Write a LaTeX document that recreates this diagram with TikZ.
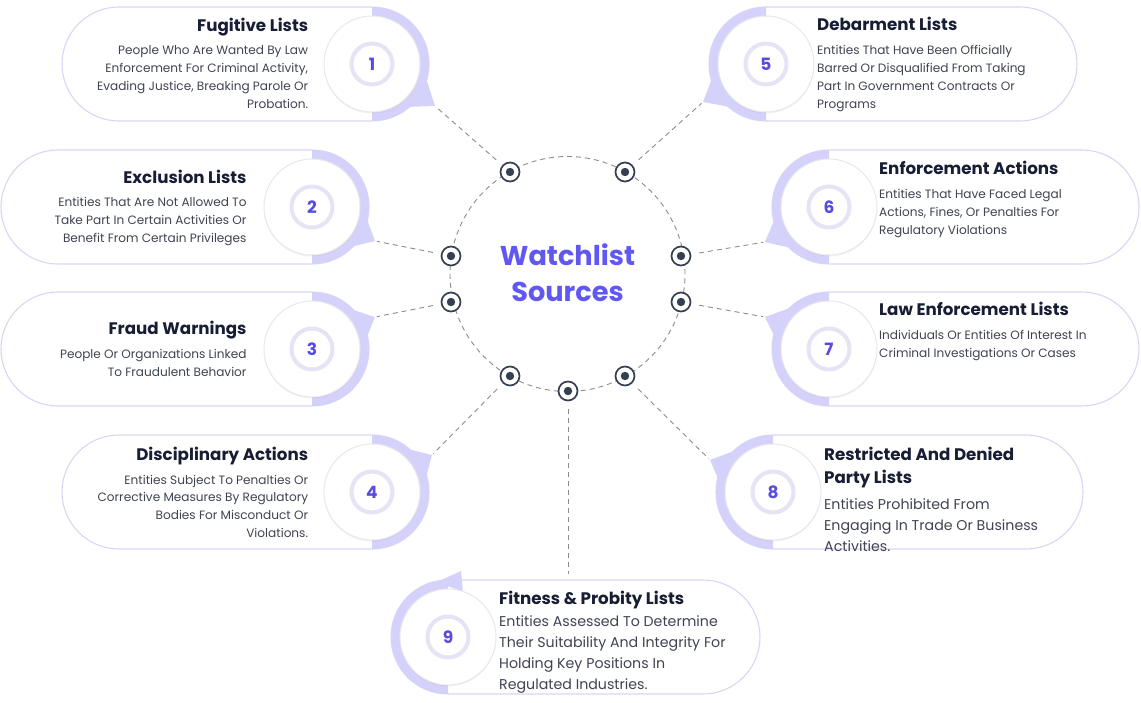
\documentclass[tikz,border=0pt]{standalone}
\usepackage{fontspec}
\setmainfont{Poppins}
\usetikzlibrary{calc,shadows}
\definecolor{lav}{RGB}{212,210,250}
\definecolor{outl}{RGB}{216,214,246}
\definecolor{ringc}{RGB}{229,228,245}
\definecolor{numc}{RGB}{88,76,224}
\definecolor{hubtxt}{RGB}{96,88,240}
\definecolor{dotc}{RGB}{52,64,82}
\definecolor{connc}{RGB}{140,140,140}
\definecolor{titc}{RGB}{23,30,52}
\definecolor{descc}{RGB}{64,68,82}
\definecolor{discedge}{RGB}{232,232,236}
\tikzset{
  cardline/.style={draw=outl, line width=1.1pt, fill=white},
  lavfill/.style={fill=lav},
  disc/.style={circle, fill=white, draw=discedge, line width=1pt, minimum size=96pt, inner sep=0pt,
    drop shadow={shadow xshift=0pt, shadow yshift=-1.5pt, opacity=0.10}},
  numring/.style={circle, draw=ringc, line width=4pt, minimum size=41pt, inner sep=0pt, text=numc,
    font=\fontsize{17}{17}\selectfont\bfseries},
  title/.style={font=\fontsize{16.7}{23.3}\selectfont\bfseries, text=titc, inner sep=0pt},
  desc/.style={font=\fontsize{12.1}{17.9}\selectfont, text=descc, inner sep=0pt},
  descbig/.style={font=\fontsize{14.2}{21}\selectfont, text=descc, inner sep=0pt},
  hubcircle/.style={circle, draw=connc, dash pattern=on 5pt off 4pt, line width=0.9pt, minimum size=235pt, inner sep=0pt},
  hubtext/.style={font=\fontsize{27.2}{36}\selectfont\bfseries, text=hubtxt, inner sep=0pt},
  dotnode/.style={circle, draw=dotc, line width=1.7pt, fill=white, minimum size=19pt, inner sep=0pt},
  conn/.style={draw=connc, dash pattern=on 5pt off 4pt, line width=0.9pt, shorten <=8pt, shorten >=2pt}
}
% #1 id, #2 cx, #3 cy, #4 left x, #5 tip x, #6 tip y, #7 #8 base points (angle:radius)
\newcommand\cardL[8]{%
  \draw[cardline, rounded corners=57pt] (#4,#3-57) rectangle (#2+57,#3+57);
  \fill[lavfill] (#2,#3-57) arc[start angle=-90,end angle=90,radius=57] -- cycle;
  \coordinate (t#1) at (#5,#6);
  \fill[lavfill] ($(#2,#3)+(#7)$) -- (t#1) -- ($(#2,#3)+(#8)$) -- cycle;
  \node[disc] (c#1) at (#2,#3) {};
  \node[numring] (n#1) at (#2,#3) {#1};
}
% #4 right x
\newcommand\cardR[8]{%
  \draw[cardline, rounded corners=57pt] (#2-57,#3-57) rectangle (#4,#3+57);
  \fill[lavfill] (#2,#3+57) arc[start angle=90,end angle=270,radius=57] -- cycle;
  \coordinate (t#1) at (#5,#6);
  \fill[lavfill] ($(#2,#3)+(#7)$) -- (t#1) -- ($(#2,#3)+(#8)$) -- cycle;
  \node[disc] (c#1) at (#2,#3) {};
  \node[numring] (n#1) at (#2,#3) {#1};
}
\begin{document}
\begin{tikzpicture}[x=1pt,y=-1pt]
\useasboundingbox (0,0) rectangle (1141,703);
\fill[white] (0,0) rectangle (1141,703);

% cards
\cardL{1}{372}{64}{62}{435}{106}{15:56}{50:56}
\cardL{2}{312}{207}{1}{375}{241}{12:56}{45:56}
\cardL{3}{312}{349}{1}{375}{317}{-12:56}{-45:56}
\cardL{4}{372}{492}{62}{432}{455}{-15:56}{-50:56}
\cardR{5}{766}{64}{1077}{703}{102}{130:56}{165:56}
\cardR{6}{829}{207}{1139}{765}{242}{133:56}{167:56}
\cardR{7}{829}{349}{1139}{765}{317}{193:56}{228:56}
\cardR{8}{773}{492}{1083}{710}{460}{193:56}{228:56}
\cardR{9}{448}{637}{760}{461}{571}{258:56}{288:48}

% hub
\node[hubcircle] (hub) at (567.5,274) {};
\node[hubtext, anchor=base] (hw) at (567.5,266) {Watchlist};
\node[hubtext, anchor=base] (hs) at (567.5,301.7) {Sources};

% dots
\node[dotnode] (d1) at (510,172) {};
\node[dotnode] (d5) at (625,172) {};
\node[dotnode] (d2) at (451,256) {};
\node[dotnode] (d6) at (681,256) {};
\node[dotnode] (d3) at (451,302) {};
\node[dotnode] (d7) at (681,302) {};
\node[dotnode] (d4) at (510,376) {};
\node[dotnode] (d8) at (625,376) {};
\node[dotnode] (d9) at (568,391) {};
\foreach \d in {d1,d2,d3,d4,d5,d6,d7,d8,d9} \fill[dotc] (\d) circle[radius=4.2];

% connectors
\coordinate (e9) at (568,576);
\foreach \i in {1,...,8} \draw[conn] (d\i) -- (t\i);
\draw[conn] (d9) -- (e9);

% texts (multi-line nodes: base = baseline of last line)
\node[title, anchor=base east] (h1) at (308.3,31.5) {Fugitive Lists};
\node[desc, anchor=base east, align=right] (s1) at (308.3,108.7) {People Who Are Wanted By Law\\Enforcement For Criminal Activity,\\Evading Justice, Breaking Parole Or\\Probation.};

\node[title, anchor=base east] (h2) at (246.7,183.3) {Exclusion Lists};
\node[desc, anchor=base east, align=right] (s2) at (246.7,242.5) {Entities That Are Not Allowed To\\Take Part In Certain Activities Or\\Benefit From Certain Privileges};

\node[title, anchor=base east] (h3) at (246.7,334.3) {Fraud Warnings};
\node[desc, anchor=base east, align=right] (s3) at (246.7,376.2) {People Or Organizations Linked\\To Fraudulent Behavior};

\node[title, anchor=base east] (h4) at (308.3,460) {Disciplinary Actions};
\node[desc, anchor=base east, align=right] (s4) at (308.3,537.7) {Entities Subject To Penalties Or\\Corrective Measures By Regulatory\\Bodies For Misconduct Or\\Violations.};

\node[title, anchor=base west] (h5) at (817,30.7) {Debarment Lists};
\node[desc, anchor=base west, align=left] (s5) at (817,108.7) {Entities That Have Been Officially\\Barred Or Disqualified From Taking\\Part In Government Contracts Or\\Programs};

\node[title, anchor=base west] (h6) at (879,174.3) {Enforcement Actions};
\node[desc, anchor=base west, align=left] (s6) at (879,234.1) {Entities That Have Faced Legal\\Actions, Fines, Or Penalties For\\Regulatory Violations};

\node[title, anchor=base west] (h7) at (879,315.7) {Law Enforcement Lists};
\node[desc, anchor=base west, align=left] (s7) at (879,357.9) {Individuals Or Entities Of Interest In\\Criminal Investigations Or Cases};

\node[title, anchor=base west, align=left] (h8) at (824,483.3) {Restricted And Denied\\Party Lists};
\node[descbig, anchor=base west, align=left] (s8) at (824,551) {Entities Prohibited From\\Engaging In Trade Or Business\\Activities.};

\node[title, anchor=base west] (h9) at (499,604.3) {Fitness \& Probity Lists};
\node[descbig, anchor=base west, align=left] (s9) at (499,689.7) {Entities Assessed To Determine\\Their Suitability And Integrity For\\Holding Key Positions In\\Regulated Industries.};
\end{tikzpicture}
\end{document}
